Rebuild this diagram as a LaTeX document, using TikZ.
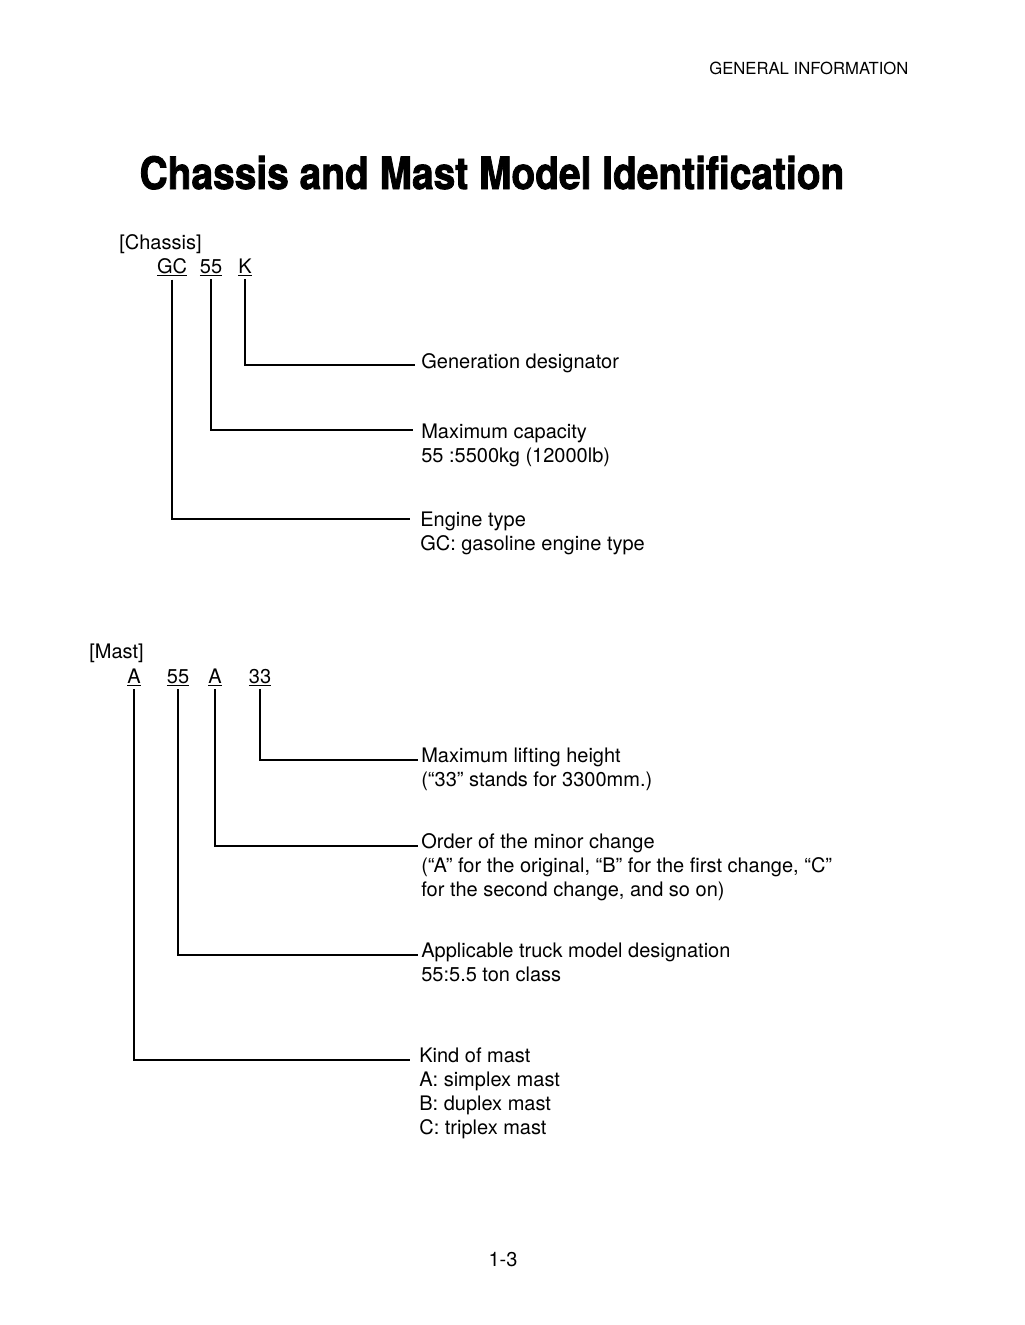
\documentclass[tikz,border=0pt]{standalone}
\usepackage{fontspec}
\usepackage{graphicx}
\setmainfont{TeX Gyre Heros}
\newfontfamily\titlefont{TeX Gyre Heros}[BoldFeatures={FakeBold=2}]
\tikzset{
  code/.style={inner sep=0pt, anchor=base, font=\fontsize{12}{14.4}\selectfont},
  desc/.style={inner sep=0pt, anchor=base west, align=left, font=\fontsize{12}{14.4}\selectfont},
  lead/.style={line width=0.8pt, shorten <=1.5pt},
}
\begin{document}
\begin{tikzpicture}[x=0.021084cm, y=-0.021084cm]
    \useasboundingbox[fill=white] (0,0) rectangle (1024,1325);
    \node[desc, font=\fontsize{10}{12}\selectfont] (head) at (709,74) {GENERAL INFORMATION};
    \node[inner sep=0pt, anchor=base] (title) at (492,189)
        {\resizebox{14.86cm}{0.70cm}{\titlefont\bfseries Chassis and Mast Model Identification}};
    % chassis (desc nodes sit on the baseline of their last line)
    \node[desc] (chassis) at (119,249) {[Chassis]};
    \node[code] (gc) at (172,273) {\underline{GC}};
    \node[code] (c55) at (211,273) {\underline{55}};
    \node[code] (ck) at (245,273) {\underline{K}};
    \node[desc] (gen) at (421,368) {Generation designator};
    \node[desc] (cap) at (421,462) {Maximum capacity\\55 :5500kg (12000lb)};
    \node[desc] (eng) at (420,550) {Engine type\\GC: gasoline engine type};
    \coordinate (genend) at (415,365);
    \coordinate (capend) at (413,430);
    \coordinate (engend) at (410,519);
    \draw[lead] (ck.south) |- (genend);
    \draw[lead] (c55.south) |- (capend);
    \draw[lead] (gc.south) |- (engend);
    % mast
    \node[desc] (mast) at (89,658) {[Mast]};
    \node[code] (ma) at (134,683) {\underline{A}};
    \node[code] (m55) at (178,683) {\underline{55}};
    \node[code] (mb) at (215,683) {\underline{A}};
    \node[code] (m33) at (260,683) {\underline{33}};
    \node[desc] (lift) at (421,786) {Maximum lifting height\\(“33” stands for 3300mm.)};
    \node[desc] (minor) at (421,896) {Order of the minor change\\(“A” for the original, “B” for the first change, “C”\\for the second change, and so on)};
    \node[desc] (truck) at (421,981) {Applicable truck model designation\\55:5.5 ton class};
    \node[desc] (kind) at (419,1134) {Kind of mast\\A: simplex mast\\B: duplex mast\\C: triplex mast};
    \coordinate (liftend) at (418,760);
    \coordinate (minorend) at (418,846);
    \coordinate (truckend) at (418,955);
    \coordinate (kindend) at (410,1060);
    \draw[lead] (m33.south) |- (liftend);
    \draw[lead] (mb.south) |- (minorend);
    \draw[lead] (m55.south) |- (truckend);
    \draw[lead] (ma.south) |- (kindend);
    \node[code] (page) at (503,1266) {1-3};
\end{tikzpicture}
\end{document}
